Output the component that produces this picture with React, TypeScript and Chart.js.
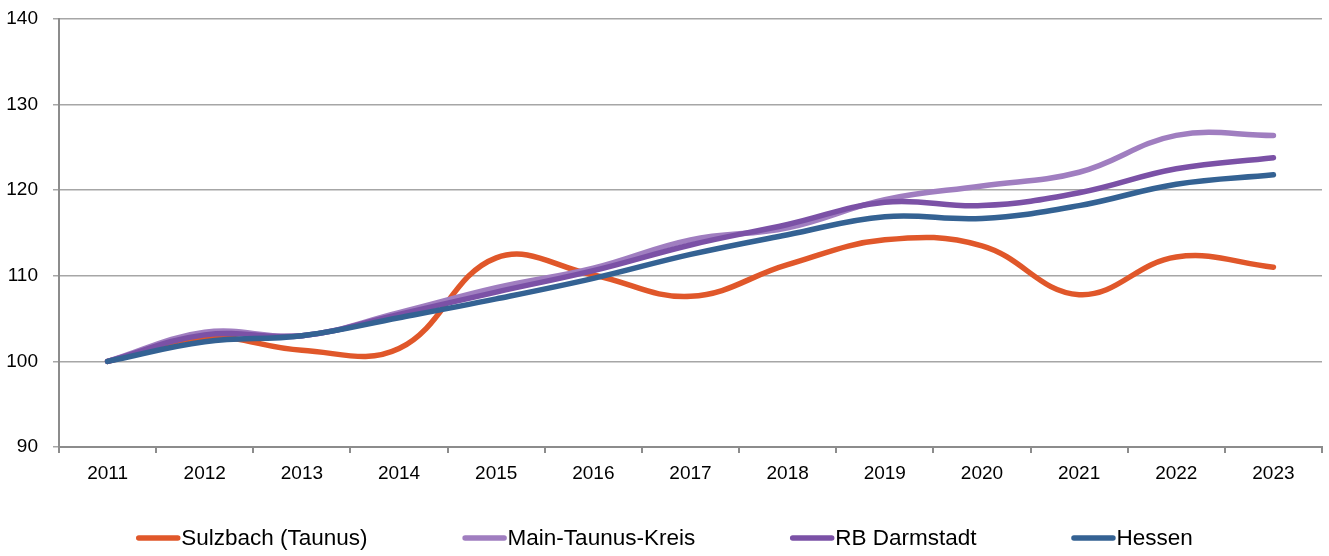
import React, { useEffect, useRef } from "react";
import { Chart, registerables } from "chart.js";

Chart.register(...registerables);

const years = ["2011", "2012", "2013", "2014", "2015", "2016", "2017", "2018", "2019", "2020", "2021", "2022", "2023"];
const sulzbach = [100, 102.8, 101.3, 101.5, 112.1, 110.1, 107.6, 111.3, 114.2, 113.5, 107.8, 112.2, 111.0];
const mainTaunusKreis = [100, 103.4, 103.0, 105.7, 108.6, 110.9, 114.2, 115.6, 118.9, 120.5, 122.1, 126.4, 126.4];
const rbDarmstadt = [100, 103.1, 103.0, 105.5, 108.1, 110.6, 113.6, 116.0, 118.6, 118.2, 119.7, 122.5, 123.8];
const hessen = [100, 102.3, 103.0, 105.1, 107.3, 109.7, 112.5, 114.8, 116.9, 116.7, 118.2, 120.7, 121.8];
const seriesNames = ["Sulzbach (Taunus)", "Main-Taunus-Kreis", "RB Darmstadt", "Hessen"];
const seriesColors = ["#E0572A", "#A07EC0", "#7B51A6", "#346293"];

const FONT = '"Liberation Sans", Arial, sans-serif';

const legendPlugin = {
  id: "customLegend",
  afterDraw(chart: any) {
    const ctx = chart.ctx;
    ctx.save();
    ctx.font = `22.5px ${FONT}`;
    const boxW = 44;
    const boxGap = 1;
    const gap = 95;
    const widths = seriesNames.map((n) => ctx.measureText(n).width);
    const total = widths.reduce((a, w) => a + boxW + boxGap + w, 0) + gap * (seriesNames.length - 1);
    let x = (chart.width - total) / 2;
    const y = 538;
    seriesNames.forEach((name, i) => {
      ctx.strokeStyle = seriesColors[i];
      ctx.lineWidth = 5.5;
      ctx.lineCap = "round";
      ctx.beginPath();
      ctx.moveTo(x + 2.5, y);
      ctx.lineTo(x + boxW - 2.5, y);
      ctx.stroke();
      ctx.fillStyle = "#000";
      ctx.textBaseline = "middle";
      ctx.textAlign = "left";
      ctx.fillText(name, x + boxW + boxGap, y + 1);
      x += boxW + boxGap + widths[i] + gap;
    });
    ctx.restore();
  },
};

export default function App() {
  const ref = useRef<HTMLCanvasElement | null>(null);
  useEffect(() => {
    if (!ref.current) return;
    const data = [sulzbach, mainTaunusKreis, rbDarmstadt, hessen];
    const chart = new Chart(ref.current, {
      type: "line",
      data: {
        labels: years,
        datasets: data.map((d, i) => ({
          label: seriesNames[i],
          data: d,
          borderColor: seriesColors[i],
          backgroundColor: seriesColors[i],
          borderWidth: 5.5,
          pointRadius: 0,
          pointHoverRadius: 0,
          tension: 0.4,
          borderCapStyle: "round" as const,
          borderJoinStyle: "round" as const,
          fill: false,
          order: 4 - i,
        })),
      },
      options: {
        animation: false,
        responsive: false,
        maintainAspectRatio: false,
        layout: { padding: { left: 0, right: 7, top: 19, bottom: 0 } },
        plugins: { legend: { display: false }, tooltip: { enabled: false } },
        scales: {
          x: {
            offset: true,
            grid: { display: true, drawOnChartArea: false, drawTicks: true, tickLength: 6, color: "#8c8c8c", lineWidth: 2, offset: true },
            border: { display: true, color: "#8c8c8c", width: 2 },
            ticks: { color: "#000", font: { family: FONT, size: 19 }, padding: 9, maxRotation: 0 },
            afterFit: (s: any) => { s.height = 109; s.paddingLeft = 0; s.paddingRight = 0; },
          },
          y: {
            min: 90,
            max: 140,
            ticks: { stepSize: 10, color: "#000", font: { family: FONT, size: 19 }, padding: 15 },
            grid: { color: "#a6a6a6", lineWidth: 1.5, tickLength: 6, drawTicks: true },
            border: { display: true, color: "#8c8c8c", width: 2 },
            afterFit: (s: any) => { s.width = 59; s.paddingTop = 0; s.paddingBottom = 0; },
          },
        },
      },
      plugins: [legendPlugin],
    });
    return () => chart.destroy();
  }, []);
  return (
    <div style={{ position: "fixed", left: 0, top: 0, width: 1329, height: 556, background: "#fff" }}>
      <canvas ref={ref} width={1329} height={556} style={{ display: "block", width: 1329, height: 556 }} />
    </div>
  );
}
